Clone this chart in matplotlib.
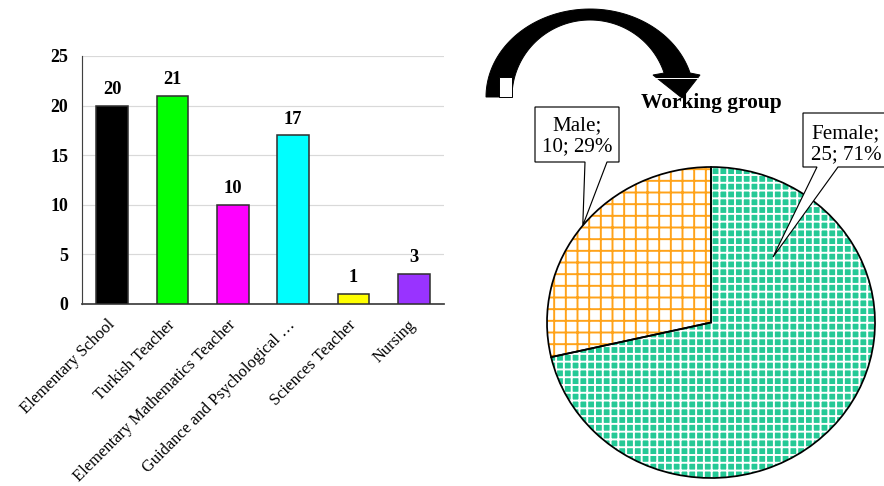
import numpy as np
import matplotlib
matplotlib.use('Agg')
import matplotlib.pyplot as plt
from matplotlib.patches import Polygon, Rectangle

# ---------------- data ----------------
categories = ["Elementary School", "Turkish Teacher", "Elementary Mathematics Teacher",
              "Guidance and Psychological …", "Sciences Teacher", "Nursing"]
counts = [20, 21, 10, 17, 1, 3]
bar_colors = ['#000000', '#00ff00', '#ff00ff', '#00ffff', '#ffff00', '#9933ff']
yticks = [0, 5, 10, 15, 20, 25]

gender_labels = ["Male", "Female"]
gender_counts = [10, 25]
pie_title = "Working group"

# ---------------- figure ----------------
DPI = 140
W, H = 884, 486
plt.rcParams['font.family'] = ['Liberation Serif', 'DejaVu Serif']
fig = plt.figure(figsize=(W / DPI, H / DPI), dpi=DPI)


def frac(l, t, r, b):
    return [l / W, 1 - b / H, (r - l) / W, (b - t) / H]


# ---------------- bar chart ----------------
ax = fig.add_axes(frac(82, 56, 444, 304))
x = np.arange(len(categories))
bars = ax.bar(x, counts, width=0.53, color=bar_colors, edgecolor='#303030',
              linewidth=0.8, zorder=3)
ax.set_xlim(-0.5, len(categories) - 0.5)
ax.set_ylim(0, 25)
ax.set_yticks(yticks)
ax.set_yticklabels([str(v) for v in yticks], fontsize=9.2, fontweight='bold')
ax.yaxis.grid(True, color='#d9d9d9', linewidth=0.6, zorder=0)
ax.set_axisbelow(True)
ax.tick_params(axis='y', length=0, pad=7)
ax.tick_params(axis='x', length=0, pad=9.5)
ax.set_xticks(x)
ax.set_xticklabels(categories, rotation=45, ha='right', va='center',
                   rotation_mode='anchor', fontsize=8.5)
for s in ['top', 'right']:
    ax.spines[s].set_visible(False)
ax.spines['left'].set_color('#404040')
ax.spines['left'].set_linewidth(0.6)
ax.spines['bottom'].set_color('#404040')
ax.spines['bottom'].set_linewidth(0.9)
ax.bar_label(bars, padding=4, fontsize=9.5, fontweight='bold')

# ---------------- pie chart ----------------
PL, PT, PR, PB = 547, 167, 875, 478
pcx, pcy = (PL + PR) / 2, (PT + PB) / 2
prx, pry = (PR - PL) / 2, (PB - PT) / 2


def dx(px):
    return (px - pcx) / prx


def dy(py):
    return (pcy - py) / pry


pax = fig.add_axes(frac(PL, PT, PR, PB))
with plt.rc_context({'hatch.linewidth': 1.0}):
    wedges, _ = pax.pie(gender_counts, startangle=90, counterclock=True,
                        colors=['white', '#25c996'], wedgeprops=dict(linewidth=0))
    wedges[0].set_hatch('++')
    wedges[0].set_edgecolor('#ffa31a')
    wedges[1].set_hatch('+++')
    wedges[1].set_edgecolor('white')
pax.pie(gender_counts, startangle=90, counterclock=True,
        wedgeprops=dict(fill=False, edgecolor='black', linewidth=0.9))
pax.set_aspect('auto')
pax.set_xlim(-1, 1)
pax.set_ylim(-1, 1)
pax.axis('off')

total = sum(gender_counts)
labels_txt = [f"{g};\n{c}; {round(100 * c / total)}%" for g, c in zip(gender_labels, gender_counts)]

# Male callout: tip at wedge mid-angle on the rim
mid = np.deg2rad(90 + 360 * gender_counts[0] / total / 2)
male_tip = (np.cos(mid), np.sin(mid))
male_box = [(535, 107), (619, 107), (619, 162), (607, 162), None, (585, 162), (535, 162)]
fem_tip = (dx(773), dy(257))
fem_box = [(803, 113), (892, 113), (892, 167), (838, 167), None, (817, 167), (803, 167)]

for box, tip, txt, tc in [(male_box, male_tip, labels_txt[0], (577, 136)),
                          (fem_box, fem_tip, labels_txt[1], (846, 144))]:
    pts = [tip if p is None else (dx(p[0]), dy(p[1])) for p in box]
    pax.add_patch(Polygon(pts, closed=True, facecolor='white', edgecolor='black',
                          linewidth=0.6, clip_on=False, zorder=5))
    pax.text(dx(tc[0]), dy(tc[1]), txt, ha='center', va='center', fontsize=10.8,
             linespacing=1.12, multialignment='center', zorder=6, clip_on=False)

# ---------------- overlay: curved arrow and title ----------------
ov = fig.add_axes([0, 0, 1, 1])
ov.set_xlim(0, W)
ov.set_ylim(H, 0)
ov.axis('off')
ov.patch.set_visible(False)

cx, cy = 590, 97
orx, ory = 104, 88
irx, iry = 78, 77
t_out = np.linspace(np.pi, np.arcsin(24 / ory), 80)
t_in = np.linspace(np.arcsin(24 / iry), np.pi, 80)
outer = np.column_stack([cx + orx * np.cos(t_out), cy - ory * np.sin(t_out)])
inner = np.column_stack([cx + irx * np.cos(t_in), cy - iry * np.sin(t_in)])
head = np.array([[700, 75], [682, 98], [653, 75]])
shape = np.vstack([outer, head, inner])
ov.add_patch(Polygon(shape, closed=True, facecolor='black', edgecolor='black', linewidth=0.5))
ov.add_patch(Rectangle((499, 77), 13, 20, facecolor='white', edgecolor='black', linewidth=0.5))
ov.plot([656, 697], [77.5, 77.5], color='white', linewidth=0.5)

ov.text(711, 103, pie_title, ha='center', va='center', fontsize=11, fontweight='bold')

fig.savefig('out.png', dpi=DPI)
